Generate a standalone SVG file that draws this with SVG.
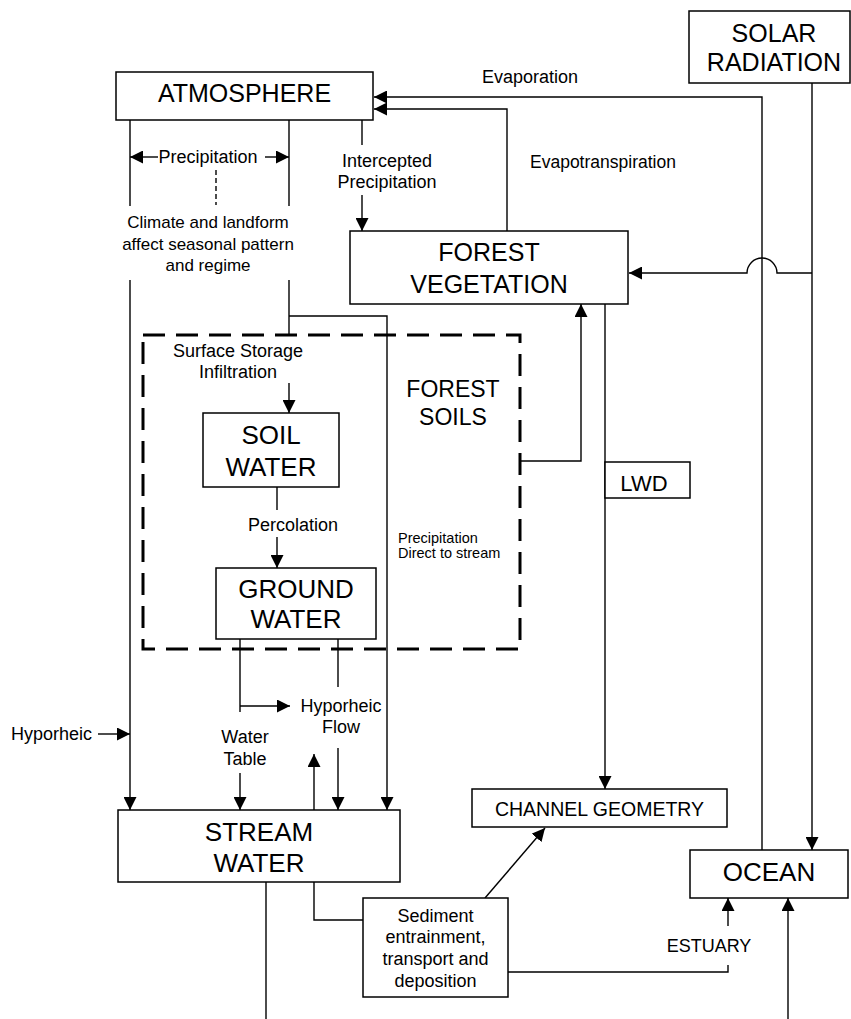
<svg xmlns="http://www.w3.org/2000/svg" width="851" height="1019" viewBox="0 0 851 1019">
  <defs>
    <style>
      text { font-family: "Liberation Sans", Arial, Helvetica, sans-serif; fill: #000; }
      .box { fill: #fff; stroke: #000; stroke-width: 1.5; }
      .big { font-size: 25px; text-anchor: middle; }
      .big26 { font-size: 26px; text-anchor: middle; }
      .lbl { font-size: 18px; }
      .mid { text-anchor: middle; }
      .c { fill: none; stroke: #000; stroke-width: 1.4; }
      .arr { marker-end: url(#head); }
      .dash { fill: none; stroke: #000; stroke-width: 3; stroke-dasharray: 22 11; }
    </style>
    <marker id="head" markerUnits="userSpaceOnUse" markerWidth="13" markerHeight="13" refX="13" refY="6.5" orient="auto">
      <path d="M0,0 L13,6.5 L0,13 z" fill="#000"/>
    </marker>
  </defs>

  <rect width="851" height="1019" fill="#fff"/>

  <!-- connectors -->
  <g id="connectors">
    <!-- evaporation from ocean and evapotranspiration from vegetation -->
    <path class="c arr" d="M762,850 V97 H374"/>
    <path class="c arr" d="M507,231 V109 H374"/>
    <!-- intercepted precipitation -->
    <path class="c" d="M362,120 V145"/>
    <path class="c arr" d="M362,195 V231"/>
    <!-- precipitation -->
    <path class="c" d="M130,120 V206 M289,120 V206"/>
    <path class="c arr" d="M158,157 H130"/>
    <path class="c arr" d="M265,157 H289"/>
    <path class="c" d="M216,170 V205" stroke-dasharray="5 3"/>
    <path class="c arr" d="M130,280 V810"/>
    <path class="c" d="M289,280 V335"/>
    <path class="c arr" d="M289,316 H387 V810"/>
    <!-- infiltration and percolation -->
    <path class="c arr" d="M289,383 V413"/>
    <path class="c" d="M277,487 V510"/>
    <path class="c arr" d="M277,537 V568"/>
    <!-- soils to vegetation -->
    <path class="c arr" d="M520,461 H581 V304"/>
    <!-- solar radiation to vegetation, hopping over the evaporation line -->
    <path class="c arr" d="M812,273 H777 A15,15 0 0 0 747,273 H629"/>
    <!-- solar radiation to ocean -->
    <path class="c arr" d="M812,83 V850"/>
    <!-- vegetation to channel geometry (LWD) -->
    <path class="c arr" d="M605,304 V789"/>
    <!-- ground water outflows -->
    <path class="c" d="M240,639 V712"/>
    <path class="c arr" d="M240,706 H290"/>
    <path class="c" d="M338,639 V687"/>
    <path class="c arr" d="M338,748 V810"/>
    <path class="c arr" d="M240,773 V810"/>
    <path class="c arr" d="M314,810 V754"/>
    <path class="c arr" d="M98,734 H130"/>
    <!-- stream outflows -->
    <path class="c" d="M266,882 V1019"/>
    <path class="c" d="M314,882 V920 H363"/>
    <path class="c arr" d="M485,898 L545,828"/>
    <path class="c" d="M508,972 H728 V965"/>
    <path class="c arr" d="M728,926 V898"/>
    <path class="c arr" d="M788,1019 V898"/>
  </g>

  <!-- connector labels -->
  <g id="labels" class="lbl">
    <text x="482" y="83">Evaporation</text>
    <text x="530" y="168" style="font-size:17.5px">Evapotranspiration</text>
    <text x="208" y="163" class="mid">Precipitation</text>
    <text x="387" y="167" class="mid">Intercepted</text>
    <text x="387" y="188" class="mid">Precipitation</text>
    <text x="208" y="228" class="mid" style="font-size:17px">Climate and landform</text>
    <text x="208" y="250" class="mid" style="font-size:17px">affect seasonal pattern</text>
    <text x="208" y="271" class="mid" style="font-size:17px">and regime</text>
    <text x="238" y="357" class="mid">Surface Storage</text>
    <text x="238" y="378" class="mid">Infiltration</text>
    <text x="293" y="531" class="mid">Percolation</text>
    <text x="398" y="543" style="font-size:14.5px">Precipitation</text>
    <text x="398" y="558" style="font-size:14.5px">Direct to stream</text>
    <text x="341" y="712" class="mid">Hyporheic</text>
    <text x="341" y="733" class="mid">Flow</text>
    <text x="11" y="740">Hyporheic</text>
    <text x="245" y="743" class="mid">Water</text>
    <text x="245" y="765" class="mid">Table</text>
    <text x="709" y="952" class="mid">ESTUARY</text>
  </g>

  <!-- nodes -->
  <g id="atmosphere">
    <rect class="box" x="116" y="72" width="257" height="48"/>
    <text class="big" x="244.5" y="102">ATMOSPHERE</text>
  </g>

  <g id="solar-radiation">
    <rect class="box" x="689" y="11" width="161" height="72"/>
    <text class="big" x="774" y="42">SOLAR</text>
    <text class="big" x="774" y="71">RADIATION</text>
  </g>

  <g id="forest-vegetation">
    <rect class="box" x="350" y="231" width="278" height="73"/>
    <text class="big" x="489" y="261">FOREST</text>
    <text class="big" x="489" y="293">VEGETATION</text>
  </g>

  <g id="forest-soils">
    <rect class="dash" x="143" y="335" width="377" height="314"/>
    <text x="453" y="397" class="mid" style="font-size:23px">FOREST</text>
    <text x="453" y="425" class="mid" style="font-size:23px">SOILS</text>
  </g>

  <g id="soil-water">
    <rect class="box" x="203" y="413" width="136" height="74"/>
    <text class="big26" x="271" y="444">SOIL</text>
    <text class="big26" x="271" y="476">WATER</text>
  </g>

  <g id="ground-water">
    <rect class="box" x="216" y="568" width="160" height="71"/>
    <text class="big26" x="296" y="598">GROUND</text>
    <text class="big26" x="296" y="628">WATER</text>
  </g>

  <g id="lwd">
    <rect class="box" x="605" y="462" width="85" height="36"/>
    <text x="644" y="491" class="mid" style="font-size:22px">LWD</text>
  </g>

  <g id="channel-geometry">
    <rect class="box" x="472" y="789" width="255" height="38"/>
    <text x="599.5" y="816" class="mid" style="font-size:19.5px">CHANNEL GEOMETRY</text>
  </g>

  <g id="stream-water">
    <rect class="box" x="118" y="810" width="282" height="72"/>
    <text class="big26" x="259" y="841">STREAM</text>
    <text class="big26" x="259" y="872">WATER</text>
  </g>

  <g id="ocean">
    <rect class="box" x="690" y="850" width="158" height="48"/>
    <text class="big26" x="769" y="881">OCEAN</text>
  </g>

  <g id="sediment">
    <rect class="box" x="363" y="898" width="145" height="99"/>
    <text x="435.5" y="922" class="lbl mid">Sediment</text>
    <text x="435.5" y="943" class="lbl mid">entrainment,</text>
    <text x="435.5" y="965" class="lbl mid">transport and</text>
    <text x="435.5" y="987" class="lbl mid">deposition</text>
  </g>
</svg>
